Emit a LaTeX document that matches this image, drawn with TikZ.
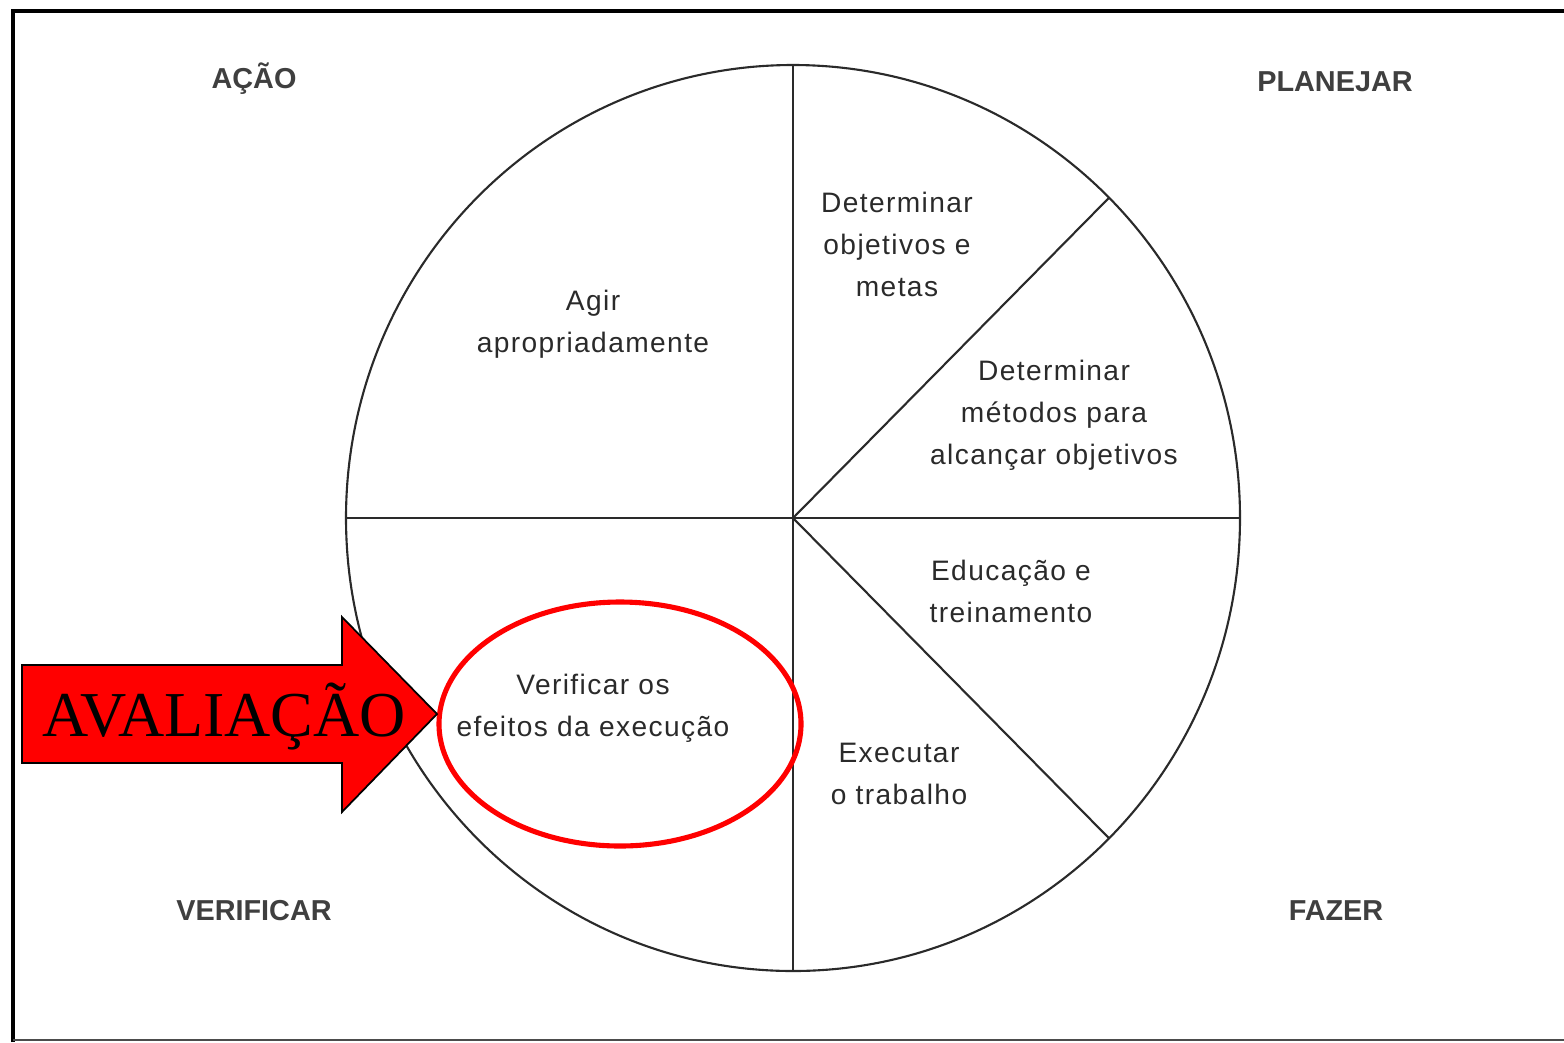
\documentclass[tikz,border=0pt]{standalone}
\usepackage{fontspec}
\usepackage{tikz}
\usetikzlibrary{calc}
\setmainfont{Liberation Sans}
\newfontfamily\cyclefont[LetterSpace=5]{Liberation Sans}
\newfontfamily\arrowfont{Liberation Serif}
\definecolor{inkgray}{HTML}{2A2A2A}
\tikzset{
  phase/.style={font=\bfseries\fontsize{8.2}{10}\selectfont, text=inkgray!90},
  task/.style={font=\cyclefont\fontsize{8}{11.95}\selectfont, text=inkgray, align=center},
}

\begin{document}
\begin{tikzpicture}[x=0.01cm, y=-0.01cm]
      \useasboundingbox (0,0) rectangle (1564,1042);
      % frame
      \draw [line width=1.2pt] (13,1042) -- (13,11) -- (1564,11);
      \draw [line width=0.6pt, gray!60!black] (13,1040) -- (1564,1040);
      % wheel
      \coordinate (c) at (793,518);
      \draw [line width=0.6pt, inkgray] (c) ellipse (447 and 453);
      \coordinate (w) at ($(c)+(180:447 and 453)$);
      \coordinate (e) at ($(c)+(0:447 and 453)$);
      \coordinate (n) at ($(c)+(-90:447 and 453)$);
      \coordinate (s) at ($(c)+(90:447 and 453)$);
      \coordinate (ne) at ($(c)+(-45:447 and 453)$);
      \coordinate (se) at ($(c)+(45:447 and 453)$);
      \draw [line width=0.6pt, inkgray] (w) -- (e);
      \draw [line width=0.6pt, inkgray] (n) -- (s);
      \draw [line width=0.6pt, inkgray] (c) -- (ne);
      \draw [line width=0.6pt, inkgray] (c) -- (se);
      % phases
      \node (acao) [phase] at (254,79) {AÇÃO};
      \node (planejar) [phase] at (1335,82) {PLANEJAR};
      \node (verificar) [phase] at (254,911) {VERIFICAR};
      \node (fazer) [phase] at (1336,911) {FAZER};
      % tasks
      \node (agir) [task] at (593,324) {Agir\\apropriadamente};
      \node (metas) [task] at (897,244) {Determinar\\objetivos e\\metas};
      \node (metodos) [task] at (1054,415) {Determinar\\métodos para\\alcançar objetivos};
      \node (educ) [task] at (1011,591) {Educação e\\treinamento};
      \node (efeitos) [task] at (593,708) {Verificar os\\efeitos da execução};
      \node (exec) [task] at (899,774) {Executar\\o trabalho};
      % highlight
      \draw [red, line width=1.45pt] (620,724) ellipse (181 and 122);
      \draw [fill=red, draw=black, line width=0.5pt]
        (22,665) -- (342,665) -- (342,617) -- (437,714) -- (342,812) -- (342,763) -- (22,763) -- cycle;
      \node (aval) at (224,717) [font=\arrowfont\fontsize{18.2}{21}\selectfont] {AVALIAÇÃO};
    \end{tikzpicture}
\end{document}
